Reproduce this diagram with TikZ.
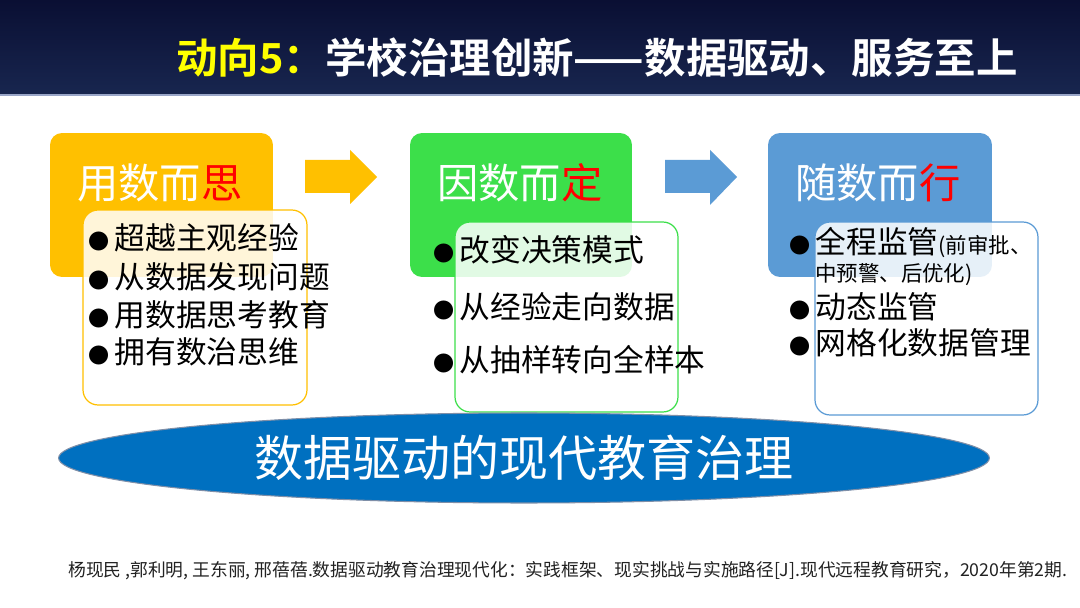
\documentclass[tikz,border=0pt]{standalone}
\usepackage{fontspec}
\usetikzlibrary{shapes.geometric}
\newfontfamily\cjk{Noto Sans CJK SC}[BoldFont={Noto Sans CJK SC Bold}]
\definecolor{orangeC}{HTML}{FFC000}
\definecolor{greenC}{HTML}{3CDF4A}
\definecolor{blueC}{HTML}{5B9BD5}
\definecolor{ellC}{HTML}{0070C0}
\definecolor{ellB}{HTML}{7F8FA8}
\definecolor{redT}{HTML}{FF0000}
\definecolor{yellowT}{HTML}{FFFF00}
\definecolor{navyTop}{HTML}{0A0F33}
\definecolor{navyBot}{HTML}{18264F}
\definecolor{lineC}{HTML}{9AA6C8}
\definecolor{refC}{HTML}{222222}
\newcommand{\bul}{{\fontsize{12pt}{14pt}\selectfont ●}}
\begin{document}
\begin{tikzpicture}[x=0.02cm,y=-0.02cm,
  headbox/.style={rounded corners=0.24cm, inner sep=0, minimum height=2.88cm},
  listbox/.style={draw, line width=0.7pt, fill=white, fill opacity=0.85, rounded corners=0.3cm, inner sep=0},
  boxtitle/.style={font=\cjk\fontsize{23.5pt}{28pt}\selectfont, text=white, anchor=west, inner sep=0},
  item/.style={font=\cjk\fontsize{17.5pt}{21pt}\selectfont, anchor=west, inner sep=0, text=black},
  small/.style={font=\cjk\fontsize{12.2pt}{14pt}\selectfont}
]
\useasboundingbox (0,0) rectangle (1080,608);
\fill[white] (0,0) rectangle (1080,608);
% header
\shade[top color=navyTop, bottom color=navyBot] (0,0) rectangle (1080,95);
\fill[lineC] (0,94) rectangle (1080,96);
\node[anchor=west, inner sep=0, font=\cjk\bfseries\fontsize{23.6pt}{28pt}\selectfont, text=white] (ttl) at (176,58)
  {\textcolor{yellowT}{动向5：}学校治理创新——数据驱动、服务至上};

% coloured boxes
\node[headbox, fill=orangeC, minimum width=4.46cm] (b1) at (161.5,205) {};
\node[headbox, fill=greenC, minimum width=4.44cm] (b2) at (521,205) {};
\node[headbox, fill=blueC, minimum width=4.48cm] (b3) at (880,205) {};
\node[boxtitle] (t1) at (77,183) {用数而\textcolor{redT}{思}};
\node[boxtitle] (t2) at (437,183) {因数而\textcolor{redT}{定}};
\node[boxtitle] (t3) at (795,183) {随数而\textcolor{redT}{行}};

% arrows
\fill[orangeC] (305,160) -- (350,160) -- (350,150) -- (377,177) -- (350,204) -- (350,193) -- (305,193) -- cycle;
\fill[blueC] (665,160) -- (710,160) -- (710,150) -- (737,177) -- (710,205) -- (710,193) -- (665,193) -- cycle;

% list boxes
\node[listbox, draw=orangeC, minimum width=4.48cm, minimum height=3.9cm] (w1) at (195,307.5) {};
\node[listbox, draw=greenC, minimum width=4.46cm, minimum height=3.8cm] (w2) at (566.5,317) {};
\node[listbox, draw=blueC, minimum width=4.46cm, minimum height=3.86cm] (w3) at (926.5,318.5) {};

% items
\node[item] (i11) at (88,238) {\bul\,超越主观经验};
\node[item] (i12) at (88,277) {\bul\,从数据发现问题};
\node[item] (i13) at (88,315) {\bul\,用数据思考教育};
\node[item] (i14) at (88,352) {\bul\,拥有数治思维};

\node[item] (i21) at (433,250) {\bul\,改变决策模式};
\node[item] (i22) at (433,307) {\bul\,从经验走向数据};
\node[item] (i23) at (433,360) {\bul\,从抽样转向全样本};

\node[item] (i31) at (789,243) {\bul\,全程监管{\fontsize{12.2pt}{14pt}\selectfont (前审批、}};
\node[item, small] (i31b) at (815,275) {中预警、后优化)};
\node[item] (i32) at (789,307) {\bul\,动态监管};
\node[item] (i33) at (789,343) {\bul\,网格化数据管理};

% ellipse
\node[ellipse, fill=ellC, draw=ellB, line width=0.6pt, minimum width=18.62cm, minimum height=1.8cm, inner sep=0,
  text=white, font=\cjk\fontsize{27.9pt}{32pt}\selectfont] (ell) at (524,458) {数据驱动的现代教育治理};

% citation
\node[anchor=west, inner sep=0, text=refC, font=\cjk\fontsize{10.1pt}{12pt}\selectfont] (ref) at (68,571)
  {杨现民 ,郭利明, 王东丽, 邢蓓蓓.数据驱动教育治理现代化：实践框架、现实挑战与实施路径[J].现代远程教育研究，2020年第2期.};
\end{tikzpicture}
\end{document}
